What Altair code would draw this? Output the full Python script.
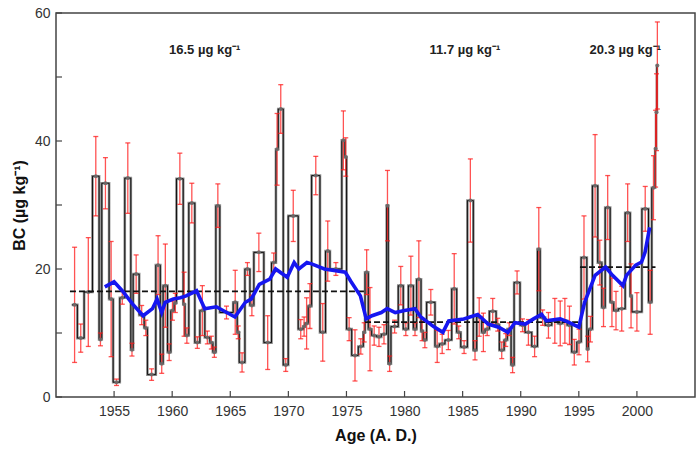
import altair as alt
import pandas as pd

# Sample start ages (A.D.), black carbon concentration (µg/kg) and 1-sigma uncertainty
start_year = [
    1951.36, 1951.84, 1952.42, 1953.14, 1953.71, 1953.94, 1954.57, 1954.92, 1955.49, 1955.92,
    1956.44, 1956.64, 1957.16, 1957.59, 1957.87, 1958.59, 1958.98, 1959.22, 1959.60, 1959.88,
    1960.17, 1960.37, 1960.95, 1961.10, 1961.43, 1961.95, 1962.38, 1962.81, 1963.24, 1963.50,
    1963.76, 1964.10, 1965.25, 1965.60, 1965.77, 1966.26, 1966.69, 1967.03, 1967.89, 1968.55,
    1968.93, 1969.13, 1969.56, 1969.99, 1970.85, 1971.28, 1971.43, 1971.71, 1972.00, 1972.72,
    1973.20, 1973.58, 1974.60, 1974.87, 1975.01, 1975.45, 1976.02, 1976.45, 1976.60, 1976.88,
    1977.17, 1977.60, 1978.00, 1978.46, 1978.60, 1978.83, 1979.46, 1979.89, 1980.33, 1980.76,
    1981.04, 1981.42, 1981.60, 1981.90, 1982.62, 1983.00, 1983.48, 1984.06, 1984.49, 1984.84,
    1985.41, 1985.92, 1986.21, 1986.64, 1986.93, 1987.30, 1987.88, 1988.16, 1988.57, 1988.85,
    1989.17, 1989.43, 1989.94, 1990.37, 1990.95, 1991.44, 1991.67, 1992.10, 1992.67, 1993.20,
    1993.60, 1994.00, 1994.39, 1994.83, 1995.20, 1995.69, 1995.83, 1996.17, 1996.63, 1996.98,
    1997.27, 1997.70, 1998.00, 1998.40, 1998.99, 1999.42, 1999.57, 2000.43, 2001.00, 2001.28,
    2001.57, 2001.65, 2001.72,
]
last_sample_end = 2001.80

bc_value = [
    14.4, 9.2, 16.4, 34.5, 9.0, 33.4, 15.3, 2.3, 15.5, 34.2,
    7.4, 19.2, 12.8, 10.8, 3.5, 20.6, 5.2, 17.4, 7.0, 13.5,
    14.7, 34.1, 14.5, 9.6, 30.3, 8.5, 13.5, 9.3, 8.5, 7.0,
    29.9, 13.2, 14.8, 10.1, 5.4, 20.0, 14.3, 22.6, 8.5, 21.0,
    38.7, 45.0, 5.0, 28.3, 10.6, 11.0, 11.5, 14.2, 34.6, 10.1,
    22.8, 20.0, 40.1, 37.5, 10.6, 6.5, 7.9, 10.1, 19.5, 10.6,
    9.6, 9.4, 9.8, 29.9, 5.2, 11.0, 17.4, 10.6, 17.4, 10.6,
    18.4, 10.3, 8.9, 14.8, 7.9, 8.3, 8.9, 16.9, 10.1, 7.8,
    30.7, 7.3, 12.5, 10.1, 10.6, 13.4, 11.3, 7.3, 8.9, 10.6,
    5.0, 17.9, 11.2, 10.1, 7.9, 23.1, 12.4, 11.2, 11.9, 11.5,
    11.9, 11.2, 7.0, 8.6, 21.8, 7.5, 10.6, 33.0, 21.0, 14.0,
    29.6, 14.8, 13.5, 13.8, 28.8, 15.8, 13.3, 29.4, 14.8, 32.7,
    38.8, 44.5, 51.8,
]

bc_error = [
    9.0, 2.2, 8.5, 6.2, 1.0, 4.0, 9.0, 0.5, 1.0, 5.5,
    1.0, 3.0, 1.5, 1.2, 0.9, 4.6, 1.5, 6.5, 1.3, 1.5,
    1.5, 4.0, 5.0, 1.2, 3.1, 0.9, 3.9, 1.0, 1.0, 0.8,
    3.4, 1.0, 5.0, 1.0, 1.5, 1.0, 1.6, 3.0, 4.2, 1.5,
    5.6, 3.8, 1.0, 4.0, 1.5, 1.5, 4.0, 3.5, 3.0, 4.5,
    4.7, 1.0, 4.6, 3.0, 1.8, 4.0, 1.2, 1.5, 3.5, 6.5,
    1.5, 1.5, 1.5, 5.5, 1.2, 1.0, 3.0, 1.0, 4.6, 1.0,
    6.0, 1.5, 1.2, 2.0, 2.5, 1.5, 1.5, 5.5, 1.0, 1.0,
    6.5, 1.5, 3.0, 3.0, 1.0, 2.0, 1.0, 1.3, 1.0, 1.0,
    1.2, 1.8, 1.0, 2.0, 1.6, 6.5, 1.2, 2.0, 3.5, 3.5,
    3.5, 3.0, 2.0, 2.0, 6.5, 2.0, 2.0, 8.0, 3.5, 3.0,
    5.0, 3.8, 3.0, 3.5, 4.5, 5.0, 3.0, 3.5, 5.0, 5.0,
    6.0, 6.0, 6.8,
]

# Smoothed trend (year, µg/kg)
smooth_year = [
    1954.2, 1955.0, 1955.7, 1956.6, 1957.5, 1958.3, 1958.7, 1959.1, 1959.4, 1960.1,
    1960.7, 1961.2, 1962.1, 1962.8, 1963.8, 1965.4, 1966.3, 1966.8, 1967.5, 1968.4,
    1968.9, 1969.9, 1970.5, 1970.9, 1971.6, 1972.0, 1973.1, 1974.9, 1975.4, 1976.2,
    1976.7, 1977.2, 1978.0, 1978.5, 1979.2, 1980.0, 1980.9, 1981.4, 1982.5, 1983.3,
    1983.8, 1985.1, 1986.3, 1987.2, 1988.1, 1988.9, 1989.5, 1990.4, 1991.1, 1991.8,
    1992.2, 1993.4, 1994.1, 1995.0, 1995.5, 1996.4, 1997.3, 1997.9, 1998.8, 1999.1,
    1999.9, 2000.4, 2000.7, 2001.1,
]
smooth_value = [
    17.2, 18.0, 16.6, 14.5, 12.7, 13.8, 15.3, 13.2, 14.8, 15.3,
    15.5, 15.8, 16.6, 13.8, 14.1, 12.5, 14.8, 15.3, 17.6, 18.4,
    20.0, 18.7, 21.0, 20.0, 21.0, 20.8, 20.0, 19.5, 18.0, 15.8,
    12.2, 12.7, 13.2, 13.8, 13.2, 13.5, 13.8, 12.5, 11.0, 10.1,
    11.9, 12.2, 12.9, 11.4, 10.9, 10.1, 11.6, 11.4, 12.2, 12.9,
    11.9, 12.2, 11.7, 10.9, 14.8, 19.0, 20.3, 19.0, 17.4, 19.0,
    20.6, 21.1, 22.6, 26.5,
]

# Period means
period_mean = [16.5, 11.7, 20.3]
period_start = [1951.2, 1976.6, 1995.1]
period_end = [1976.6, 1995.1, 2001.6]
period_label_year = [1962.8, 1985.2, 1999.0]

x_ticks = [1955, 1960, 1965, 1970, 1975, 1980, 1985, 1990, 1995, 2000]
y_ticks = [0, 10, 20, 30, 40, 50, 60]
y_labels = [0, 20, 40, 60]

W, H = 639, 384
FONT = "Liberation Sans"

# Tables
ends = start_year[1:] + [last_sample_end]
samples = pd.DataFrame({
    "start": start_year,
    "mid": [(a + b) / 2 for a, b in zip(start_year, ends)],
    "bc": bc_value,
    "lo": [v - e for v, e in zip(bc_value, bc_error)],
    "hi": [v + e for v, e in zip(bc_value, bc_error)],
})
steps = pd.DataFrame({
    "year": start_year + [last_sample_end],
    "bc": bc_value + [bc_value[-1]],
})
smooth = pd.DataFrame({"year": smooth_year, "bc": smooth_value})
periods = pd.DataFrame({
    "x0": period_start,
    "x1": period_end,
    "mean": period_mean,
    "lx": period_label_year,
    "label": [f"{m:.1f} µg kg⁻¹" for m in period_mean],
})

x_scale = alt.Scale(domain=[1950, 2005], nice=False, zero=False)
y_scale = alt.Scale(domain=[0, 60], nice=False)

axis_style = dict(
    ticks=False, domain=False, grid=False,
    labelFont=FONT, labelFontSize=14, labelColor="#333333",
    titleFont=FONT, titleFontSize=16, titleFontWeight="bold", titleColor="#111111",
)
x_enc = alt.X(
    "year:Q", scale=x_scale,
    axis=alt.Axis(values=x_ticks, format="d", title="Age (A. D.)",
                  labelPadding=7, titlePadding=9, **axis_style),
)
y_enc = alt.Y(
    "bc:Q", scale=y_scale,
    axis=alt.Axis(values=y_labels, title="BC (µg kg⁻¹)",
                  labelPadding=6, titlePadding=7, **axis_style),
)

step_gray = alt.Chart(steps).mark_line(
    interpolate="step-after", color="#7a7a7a", strokeWidth=2.6, opacity=0.85
).encode(x=x_enc, y=y_enc)

step_black = alt.Chart(steps).mark_line(
    interpolate="step-after", color="#111111", strokeWidth=1.0
).encode(x="year:Q", y="bc:Q")

err_rule = alt.Chart(samples).mark_rule(color="#ff1a1a", strokeWidth=1.3, opacity=0.75).encode(
    x=alt.X("mid:Q", scale=x_scale), y=alt.Y("lo:Q", scale=y_scale), y2="hi:Q"
)
cap_lo = alt.Chart(samples).mark_tick(
    color="#ff1a1a", orient="horizontal", size=5, thickness=1.3, opacity=0.75
).encode(x="mid:Q", y="lo:Q")
cap_hi = alt.Chart(samples).mark_tick(
    color="#ff1a1a", orient="horizontal", size=5, thickness=1.3, opacity=0.75
).encode(x="mid:Q", y="hi:Q")

points = alt.Chart(samples).mark_circle(color="#6a6a6a", size=16, opacity=0.9).encode(
    x="mid:Q", y="bc:Q"
)

mean_lines = alt.Chart(periods).mark_rule(
    color="#111111", strokeWidth=1.6, strokeDash=[6, 3]
).encode(x="x0:Q", x2="x1:Q", y="mean:Q")

trend = alt.Chart(smooth).mark_line(color="#1616f0", strokeWidth=3.6).encode(
    x="year:Q", y="bc:Q"
)

labels = alt.Chart(periods).mark_text(
    font=FONT, fontSize=13, fontWeight="bold", color="#222222"
).encode(x="lx:Q", y=alt.value(37), text="label:N")

# Inward-pointing tick marks on the bottom and left edges
x_tick_marks = alt.Chart(pd.DataFrame({"t": x_ticks})).mark_rule(
    color="#444444", strokeWidth=1.2
).encode(x=alt.X("t:Q", scale=x_scale), y=alt.value(H), y2=alt.value(H - 6))
y_tick_marks = alt.Chart(pd.DataFrame({"t": y_ticks})).mark_rule(
    color="#444444", strokeWidth=1.2
).encode(y=alt.Y("t:Q", scale=y_scale), x=alt.value(0), x2=alt.value(6))

chart = alt.layer(
    step_gray, step_black, err_rule, cap_lo, cap_hi, points,
    mean_lines, trend, labels, x_tick_marks, y_tick_marks,
).properties(
    width=W, height=H,
    background="white",
    autosize=alt.AutoSizeParams(type="none"),
    padding={"left": 56, "top": 13, "right": 4, "bottom": 56},
).configure_view(
    stroke="#444444", strokeWidth=1.5
)

chart.save("out.html", embed_options={"renderer": "svg", "actions": False})
